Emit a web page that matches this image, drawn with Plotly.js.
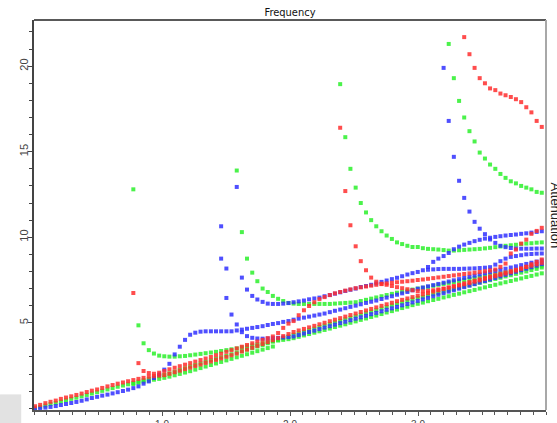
<!DOCTYPE html>
<html><head><meta charset="utf-8">
<script src="https://cdn.plot.ly/plotly-3.0.1.min.js"></script>
<style>html,body{margin:0;padding:0;background:#fff;}#chart{width:557px;height:423px;}</style>
</head><body><div id="chart"></div>
<script>
// Shared frequency sample grid (x values of the sampled points)
const X = [
0.008,0.048,0.089,0.129,0.170,0.210,0.250,0.291,0.331,0.372,
0.412,0.452,0.493,0.533,0.574,0.614,0.654,0.695,0.735,0.776,
0.816,0.856,0.897,0.937,0.978,1.018,1.058,1.099,1.139,1.180,
1.220,1.260,1.301,1.341,1.382,1.422,1.462,1.503,1.543,1.584,
1.624,1.664,1.705,1.745,1.786,1.826,1.866,1.907,1.947,1.988,
2.028,2.068,2.109,2.149,2.190,2.230,2.270,2.311,2.351,2.392,
2.432,2.472,2.513,2.553,2.594,2.634,2.674,2.715,2.755,2.796,
2.836,2.876,2.917,2.957,2.998,3.038,3.078,3.119,3.159,3.200,
3.240,3.280,3.321,3.361,3.402,3.442,3.482,3.523,3.563,3.604,
3.644,3.684,3.725,3.765,3.806,3.846,3.886,3.927,3.967,4.008];

// ---- red series (each starts at the given grid index) ----
const red1 = [0.12,0.2,0.3,0.38,0.45,0.55,0.63,0.7,0.78,0.86,0.95,1.03,1.1,1.19,1.28,1.36,1.44,1.51,1.58,6.74];
const red2 = [
2.64,2.18,2.06,2.02,2.08,2.18,2.28,2.37,2.46,2.55,
2.64,2.73,2.82,2.91,3.0,3.1,3.19,3.3,3.4,3.5,
3.6,3.7,3.8,3.9,4.0,4.1,4.2,4.4,4.7,4.95,
5.1,5.44,5.73,5.98,6.2,6.38,6.5,6.62,6.72,6.8,
6.88,6.95,7.02,7.07,7.12,7.17,7.22,7.26,7.3,7.34,
7.37,7.4,7.43,7.46,7.5,7.53,7.57,7.61,7.65,7.69,
7.73,7.77,7.81,7.85,7.89,7.93,7.97,8.01,8.06,8.11,
8.27,8.46,9.05,9.28,9.63,9.86,10.2,10.37,10.55,10.7];
const red3 = [1.65,
1.72,1.78,1.84,1.88,1.91,1.94,2.02,2.11,2.2,2.29,
2.38,2.47,2.56,2.65,2.74,2.83,2.92,3.01,3.1,3.2,
3.32,3.43,3.54,3.65,3.76,3.87,3.98,4.1,4.22,4.34,
4.46,4.55,4.64,4.73,4.82,4.91,5.0,5.09,5.18,5.27,
5.36,5.45,5.54,5.63,5.72,5.81,5.9,5.99,6.08,6.17,
6.26,6.34,6.42,6.5,6.58,6.66,6.74,6.82,6.9,6.98,
7.06,7.14,7.22,7.3,7.38,7.46,7.54,7.62,7.7,7.78,
7.86,7.94,8.02,8.1,8.18,8.26,8.34,8.42,8.5,8.6];
const redPole2 = [16.4,
12.7,10.7,9.47,8.6,8.07,7.64,7.4,7.28,7.22,7.15,
7.08,7.02,6.96,6.9,6.85,6.84,6.86,6.9,6.95,7.0,
7.06,7.12,7.18,7.25,7.32,7.4,7.48,7.56,7.64,7.72,
7.8,7.88,7.96,8.05,8.15,8.28,8.42,8.56,8.7,8.85];
const redPole3 = [21.7,20.7,19.9,19.3,19.0,18.7,18.6,18.4,18.3,18.2,18.07,17.9,17.6,17.3,16.8,16.45,15.97];
const redEdge = [21.0];

// ---- green series ----
const green1 = [
0.02,0.08,0.16,0.24,0.31,0.39,0.47,0.55,0.62,0.7,
0.78,0.86,0.94,1.02,1.1,1.18,1.26,1.33,1.4,1.48,
1.56,1.64,1.72,1.8,1.87,1.95,2.04,2.14,2.24,2.34,
2.44,2.53,2.62,2.71,2.8,2.89,2.98,3.07,3.16,3.25,
3.34,3.43,3.52,3.61,3.7,3.8,3.9,4.0,4.1,4.2,
4.3,4.39,4.48,4.57,4.66,4.75,4.84,4.93,5.02,5.11,
5.2,5.29,5.38,5.47,5.56,5.65,5.74,5.83,5.92,6.01,
6.1,6.19,6.28,6.37,6.45,6.52,6.6,6.67,6.74,6.82,
6.89,6.97,7.04,7.12,7.19,7.26,7.34,7.41,7.49,7.56,
7.63,7.71,7.78,7.86,7.93,8.0,8.08,8.15,8.23,8.3];
const green1b = [
1.42,1.49,1.56,1.62,1.67,1.72,1.78,1.85,1.93,2.01,
2.09,2.17,2.26,2.35,2.44,2.53,2.62,2.71,2.8,2.89,
2.98,3.07,3.16,3.25,3.34,3.43,3.52,3.61];
const greenPole1 = [12.8,
4.85,3.8,3.4,3.2,3.08,3.04,3.02,3.02,3.04,3.06,
3.1,3.14,3.18,3.22,3.26,3.3,3.35,3.4,3.45,3.5,
3.56,3.62,3.68,3.74,3.8,3.86,3.92,3.96,4.0,4.04,
4.1,4.18,4.26,4.34,4.42,4.5,4.58,4.66,4.75,4.83,
4.91,5.0,5.08,5.17,5.25,5.34,5.42,5.51,5.6,5.68,
5.77,5.86,5.94,6.03,6.11,6.18,6.26,6.33,6.4,6.48,
6.55,6.63,6.7,6.78,6.85,6.92,7.0,7.07,7.15,7.22,
7.3,7.37,7.44,7.52,7.59,7.67,7.74,7.82,7.89,7.96];
const greenPole2 = [13.9,
10.3,8.75,7.93,7.43,7.0,6.8,6.57,6.4,6.27,6.16,
6.12,6.1,6.1,6.1,6.1,6.1,6.1,6.1,6.12,6.14,
6.16,6.18,6.2,6.27,6.34,6.41,6.48,6.55,6.62,6.69,
6.76,6.82,6.88,6.94,7.0,7.05,7.1,7.16,7.22,7.27,
7.33,7.38,7.44,7.5,7.55,7.61,7.66,7.72,7.78,7.83,
7.89,7.94,8.0,8.06,8.11,8.17,8.22,8.28,8.34,8.4];
const greenPole3 = [18.95,
15.85,14.0,12.9,12.0,11.45,11.0,10.64,10.35,10.1,9.9,
9.7,9.6,9.5,9.43,9.43,9.36,9.32,9.3,9.28,9.25,
9.22,9.22,9.24,9.26,9.28,9.3,9.32,9.35,9.38,9.42,
9.46,9.5,9.53,9.56,9.6,9.63,9.65,9.68,9.7,9.73];
const greenPole4 = [21.3,19.3,17.97,17.0,16.2,15.6,14.95,14.6,14.25,14.0,13.7,13.47,13.27,13.15,13.0,12.9,12.8,12.65,12.6,12.55];

// ---- blue series ----
const blue1 = [
-0.02,0.0,0.04,0.08,0.13,0.19,0.25,0.31,0.37,0.44,
0.52,0.6,0.67,0.74,0.8,0.87,0.94,1.01,1.09,1.18,
1.28,1.44,1.57,1.77,1.98,2.26,2.6,3.15,3.6,4.0,
4.3,4.42,4.48,4.5,4.5,4.5,4.5,4.5,4.5,4.55,
4.6,4.65,4.7,4.75,4.8,4.87,4.93,4.98,5.05,5.1,
5.18,5.24,5.3,5.36,5.42,5.48,5.54,5.62,5.7,5.77,
5.85,5.93,6.0,6.08,6.16,6.23,6.3,6.39,6.47,6.55,
6.64,6.72,6.8,6.9,6.99,7.06,7.13,7.2,7.27,7.34,
7.41,7.48,7.55,7.62,7.68,7.75,7.82,7.89,7.96,8.03,
8.1,8.16,8.23,8.3,8.37,8.44,8.51,8.58,8.64,8.71];
const blueSpike = [10.64,8.17];
const blueDown = [8.75,6.45,5.48,4.9,
4.45,4.22,4.12,4.08,4.07,4.08,4.1,4.12,4.14,4.16,
4.2,4.28,4.37,4.46,4.54,4.63,4.72,4.8,4.89,4.98,
5.06,5.15,5.24,5.32,5.41,5.5,5.58,5.67,5.76,5.84,
5.93,6.02,6.1,6.19,6.28,6.37,6.46,6.55,6.64,6.73,
6.82,6.9,6.99,7.08,7.17,7.26,7.35,7.44,7.53,7.62,
7.71,7.8,7.89,7.98,8.07,8.16,8.25,8.34,8.43,8.52];
const bluePole2 = [12.94,
7.64,6.94,6.57,6.36,6.22,6.12,6.1,6.1,6.12,6.15,
6.2,6.25,6.3,6.37,6.42,6.47,6.55,6.62,6.7,6.78,
6.86,6.93,7.0,7.09,7.15,7.22,7.3,7.39,7.47,7.55,
7.63,7.72,7.82,7.9,7.97,8.07,8.1,8.12,8.14,8.15,
8.15,8.15,8.15,8.16,8.17,8.18,8.2,8.22,8.25,8.4,
8.6,8.75,8.85,8.9,8.95,9.0,9.02,9.04,9.05,9.06];
const blueRise = [8.26,8.56,8.75,8.9,
9.08,9.3,9.45,9.57,9.67,9.77,9.85,9.92,9.97,10.02,
10.06,10.1,10.13,10.16,10.2,10.23,10.27,10.31,10.35,10.38];
const bluePole3 = [19.9,16.8,14.7,13.3,12.3,11.5,10.9,10.5,10.18,9.87,9.67,
9.5,9.42,9.37,9.34,9.33,9.33,9.33,9.34,9.34,9.35];

// grid index at which each series begins
const SERIES = {
  green: [[0, green1], [19, green1b], [19, greenPole1], [39, greenPole2], [59, greenPole3], [80, greenPole4]],
  blue:  [[0, blue1], [36, blueSpike], [36, blueDown], [39, bluePole2], [76, blueRise], [79, bluePole3]],
  red:   [[0, red1], [20, red2], [19, red3], [59, redPole2], [83, redPole3], [99, redEdge]]
};
const COLORS = {green: '#2cf02c', blue: '#3030ff', red: '#ff2e2e'};

function collect(list) {
  const xs = [], ys = [];
  list.forEach(([start, vals]) => {
    vals.forEach((v, k) => { xs.push(X[start + k]); ys.push(v); });
  });
  return {xs, ys};
}

const traces = ['green', 'blue', 'red'].map(name => {
  const d = collect(SERIES[name]);
  return {
    type: 'scatter', mode: 'markers', x: d.xs, y: d.ys, name: name,
    marker: {symbol: 'square', size: 4, color: COLORS[name], opacity: 0.85, line: {width: 0}},
    hoverinfo: 'x+y'
  };
});

const tickFont = {family: 'Liberation Sans, Arial, sans-serif', size: 10, color: '#444'};
const layout = {
  width: 557, height: 423,
  margin: {l: 34, r: 11, t: 20, b: 13, pad: 0},
  paper_bgcolor: '#ffffff', plot_bgcolor: '#ffffff',
  showlegend: false,
  title: {
    text: 'Frequency',
    font: {family: 'Liberation Sans Narrow, DejaVu Sans Condensed, sans-serif', size: 11, color: '#111'},
    x: 0.5, xref: 'paper', xanchor: 'center',
    y: 0.972, yref: 'container', yanchor: 'middle'
  },
  xaxis: {
    range: [0, 4.0], showgrid: false, zeroline: false,
    showline: true, linecolor: '#555', linewidth: 2,
    ticks: 'outside', ticklen: 4, tickwidth: 1, tickcolor: '#555',
    tickmode: 'array', tickvals: [1, 2, 3], ticktext: ['1.0', '2.0', '3.0'],
    tickfont: tickFont,
    minor: {dtick: 0.1, tick0: 0, ticks: 'outside', ticklen: 3, tickcolor: '#555', tickwidth: 1, showgrid: false}
  },
  yaxis: {
    range: [-0.1, 22.7], showgrid: false, zeroline: false,
    showline: true, linecolor: '#444', linewidth: 2,
    ticks: 'outside', ticklen: 4, tickwidth: 1, tickcolor: '#444',
    tickmode: 'array', tickvals: [5, 10, 15, 20], ticktext: ['5', '10', '15', '20'],
    tickangle: -90, ticklabelstandoff: -4,
    tickfont: {family: 'Liberation Sans, Arial, sans-serif', size: 11, color: '#444'},
    minor: {dtick: 1, tick0: 0, ticks: 'outside', ticklen: 3, tickcolor: '#444', tickwidth: 1, showgrid: false}
  },
  shapes: [
    {type: 'line', xref: 'paper', yref: 'paper', x0: 0, x1: 1, y0: 1, y1: 1, line: {color: '#222', width: 1.5}},
    {type: 'line', xref: 'paper', yref: 'paper', x0: 1, x1: 1, y0: 0, y1: 1, line: {color: '#a8a8a8', width: 2}},
    {type: 'rect', xref: 'paper', yref: 'paper', x0: -0.0664, x1: -0.025, y0: -0.034, y1: 0.04,
     fillcolor: '#e2e2e2', line: {width: 0}, layer: 'below'}
  ],
  annotations: [{
    text: 'Attenuation', xref: 'paper', yref: 'paper', x: 1, y: 0.5,
    xanchor: 'left', yanchor: 'middle', textangle: 90, showarrow: false, xshift: 0,
    font: {family: 'Liberation Sans, Arial, sans-serif', size: 13, color: '#222'}
  }]
};

Plotly.newPlot('chart', traces, layout, {displayModeBar: false, staticPlot: true});
</script>
</body></html>
